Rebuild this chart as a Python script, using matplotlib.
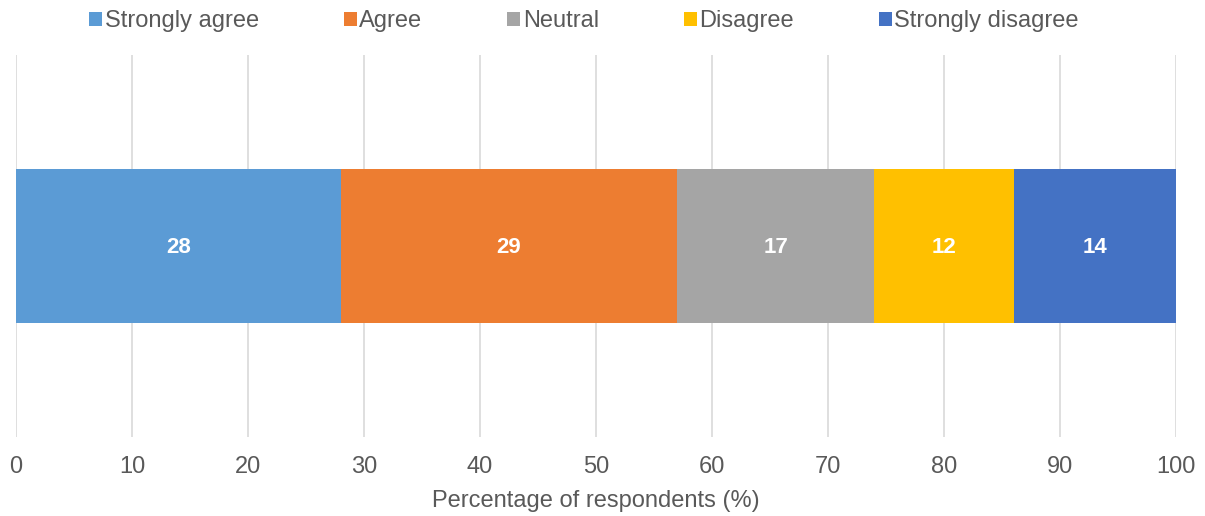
import matplotlib
matplotlib.use("Agg")
import matplotlib.pyplot as plt
from matplotlib.patches import Patch

plt.rcParams['font.family'] = ['Liberation Sans', 'DejaVu Sans']

categories = ["Strongly agree", "Agree", "Neutral", "Disagree", "Strongly disagree"]
values = [28, 29, 17, 12, 14]
colors = ["#5B9BD5", "#ED7D31", "#A5A5A5", "#FFC000", "#4472C4"]
xticks = [0, 10, 20, 30, 40, 50, 60, 70, 80, 90, 100]
xlabel = "Percentage of respondents (%)"

W, H = 1205, 516
fig = plt.figure(figsize=(W / 100, H / 100), dpi=100)
ax = fig.add_axes([16 / W, 1 - 437 / H, (1176 - 16) / W, (437 - 55) / H])

left = 0
for cat, v, c in zip(categories, values, colors):
    ax.barh(0, v, left=left, height=0.405, color=c, zorder=3, label=cat)
    ax.text(left + v / 2, -0.005, str(v), ha='center', va='center', color='white',
            fontsize=16, fontweight='bold', zorder=4)
    left += v

ax.set_xlim(0, 100)
ax.set_ylim(-0.5, 0.5)
ax.set_xticks(xticks)
ax.set_yticks([])
ax.grid(axis='x', color='#D9D9D9', linewidth=1.2, zorder=0)
for s in ax.spines.values():
    s.set_visible(False)
ax.tick_params(axis='x', length=0, pad=14, labelsize=17, labelcolor='#595959')
ax.set_xlabel(xlabel, fontsize=17, color='#595959', labelpad=8)

handles = [Patch(facecolor=c, edgecolor='none') for c in colors]
fig.legend(handles, categories, loc='center', bbox_to_anchor=(584 / W, 1 - 21 / H),
           ncol=5, frameon=False, fontsize=17, labelcolor='#595959',
           handlelength=0.55, handleheight=0.55, handletextpad=0.1, columnspacing=3.6)

fig.savefig("out.png", dpi=100, facecolor='white')
